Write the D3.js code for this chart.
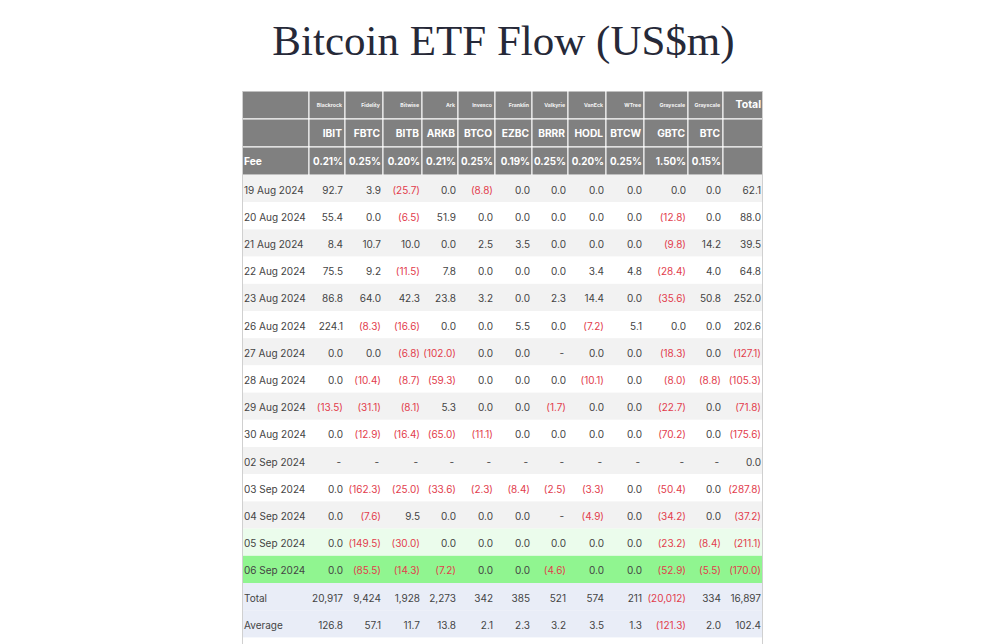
<!DOCTYPE html>
<html>
<head>
<meta charset="utf-8">
<script src="https://cdn.jsdelivr.net/npm/d3@7"></script>
<style>
  html, body { margin: 0; padding: 0; background: #fff; }
  svg { display: block; }
</style>
</head>
<body>
<svg id="chart" width="1000" height="644"></svg>
<script>
// ---------- DATA ----------
const title = "Bitcoin ETF Flow (US$m)";
const issuers = ["Blackrock", "Fidelity", "Bitwise", "Ark", "Invesco", "Franklin", "Valkyrie", "VanEck", "WTree", "Grayscale", "Grayscale"];
const tickers = ["IBIT", "FBTC", "BITB", "ARKB", "BTCO", "EZBC", "BRRR", "HODL", "BTCW", "GBTC", "BTC"];
const fees = ["0.21%", "0.25%", "0.20%", "0.21%", "0.25%", "0.19%", "0.25%", "0.20%", "0.25%", "1.50%", "0.15%"];
const dates = ["19 Aug 2024", "20 Aug 2024", "21 Aug 2024", "22 Aug 2024", "23 Aug 2024", "26 Aug 2024",
  "27 Aug 2024", "28 Aug 2024", "29 Aug 2024", "30 Aug 2024", "02 Sep 2024", "03 Sep 2024",
  "04 Sep 2024", "05 Sep 2024", "06 Sep 2024"];
// flows per date: IBIT, FBTC, BITB, ARKB, BTCO, EZBC, BRRR, HODL, BTCW, GBTC, BTC  (null = "-")
const flows = [
  [92.7, 3.9, -25.7, 0.0, -8.8, 0.0, 0.0, 0.0, 0.0, 0.0, 0.0],
  [55.4, 0.0, -6.5, 51.9, 0.0, 0.0, 0.0, 0.0, 0.0, -12.8, 0.0],
  [8.4, 10.7, 10.0, 0.0, 2.5, 3.5, 0.0, 0.0, 0.0, -9.8, 14.2],
  [75.5, 9.2, -11.5, 7.8, 0.0, 0.0, 0.0, 3.4, 4.8, -28.4, 4.0],
  [86.8, 64.0, 42.3, 23.8, 3.2, 0.0, 2.3, 14.4, 0.0, -35.6, 50.8],
  [224.1, -8.3, -16.6, 0.0, 0.0, 5.5, 0.0, -7.2, 5.1, 0.0, 0.0],
  [0.0, 0.0, -6.8, -102.0, 0.0, 0.0, null, 0.0, 0.0, -18.3, 0.0],
  [0.0, -10.4, -8.7, -59.3, 0.0, 0.0, 0.0, -10.1, 0.0, -8.0, -8.8],
  [-13.5, -31.1, -8.1, 5.3, 0.0, 0.0, -1.7, 0.0, 0.0, -22.7, 0.0],
  [0.0, -12.9, -16.4, -65.0, -11.1, 0.0, 0.0, 0.0, 0.0, -70.2, 0.0],
  [null, null, null, null, null, null, null, null, null, null, null],
  [0.0, -162.3, -25.0, -33.6, -2.3, -8.4, -2.5, -3.3, 0.0, -50.4, 0.0],
  [0.0, -7.6, 9.5, 0.0, 0.0, 0.0, null, -4.9, 0.0, -34.2, 0.0],
  [0.0, -149.5, -30.0, 0.0, 0.0, 0.0, 0.0, 0.0, 0.0, -23.2, -8.4],
  [0.0, -85.5, -14.3, -7.2, 0.0, 0.0, -4.6, 0.0, 0.0, -52.9, -5.5]
];
const dailyTotals = [62.1, 88.0, 39.5, 64.8, 252.0, 202.6, -127.1, -105.3, -71.8, -175.6, 0.0, -287.8, -37.2, -211.1, -170.0];
const fundTotals = [20917, 9424, 1928, 2273, 342, 385, 521, 574, 211, -20012, 334, 16897];
const fundAverages = [126.8, 57.1, 11.7, 13.8, 2.1, 2.3, 3.2, 3.5, 1.3, -121.3, 2.0, 102.4];

// ---------- LAYOUT (styles, not data) ----------
const tableLeft = 242;
const colWidths = [67, 36, 38, 39, 36, 37, 37, 36, 38, 38, 44, 35, 40];
const headTop = 91, headRowH = 28, bodyRowH = 27.2;
const FONT = "Inter, 'Noto Sans', sans-serif";
const C = { head: "#808080", stripe: "#f2f2f2", text: "#444444", neg: "#e23c4c",
            lightGreen: "#ebfcec", green: "#90f590", summary: "#e9edf7", border: "#d0d0d0" };

const svg = d3.select("#chart");

// column scale: index -> left edge
const edges = d3.cumsum([0].concat(colWidths)).map(d => d + tableLeft);
const xLeft = i => edges[i];
const xRight = i => edges[i + 1];
const tableRight = edges[edges.length - 1];

// title
svg.append("text")
  .attr("x", (tableLeft + tableRight) / 2 + 1)
  .attr("y", 55)
  .attr("text-anchor", "middle")
  .attr("font-family", "'Liberation Serif', 'Times New Roman', serif")
  .attr("font-size", 43)
  .attr("fill", "#262938")
  .text(title);

// ---------- HEADER ----------
const nCols = colWidths.length;
const headRows = d3.range(3);
const yHead = d3.scaleLinear().domain([0, 1]).range([headTop, headTop + headRowH]);

const head = svg.append("g");
headRows.forEach(r => {
  d3.range(nCols).forEach(c => {
    head.append("rect")
      .attr("x", xLeft(c)).attr("y", yHead(r))
      .attr("width", xRight(c) - xLeft(c)).attr("height", headRowH)
      .attr("fill", C.head).attr("stroke", "#ffffff").attr("stroke-width", 1);
  });
});

// row 0: issuers
issuers.forEach((s, i) => {
  head.append("text")
    .attr("x", xRight(i + 1) - 3).attr("y", yHead(0) + 16)
    .attr("text-anchor", "end").attr("font-family", FONT)
    .attr("font-size", 5.2).attr("font-weight", 700).attr("fill", "#f4f4f4")
    .text(s);
});
head.append("text")
  .attr("x", xRight(nCols - 1) - 2).attr("y", yHead(0) + 17)
  .attr("text-anchor", "end").attr("font-family", FONT)
  .attr("font-size", 10.5).attr("font-weight", 700).attr("fill", "#fff")
  .text("Total");
// row 1: tickers
tickers.forEach((s, i) => {
  head.append("text")
    .attr("x", xRight(i + 1) - 3).attr("y", yHead(1) + 18)
    .attr("text-anchor", "end").attr("font-family", FONT)
    .attr("font-size", 10.2).attr("font-weight", 700).attr("fill", "#fff")
    .text(s);
});
// row 2: fees
head.append("text")
  .attr("x", xLeft(0) + 2).attr("y", yHead(2) + 18)
  .attr("font-family", FONT).attr("font-size", 10.2).attr("font-weight", 700).attr("fill", "#fff")
  .text("Fee");
fees.forEach((s, i) => {
  head.append("text")
    .attr("x", xRight(i + 1) - 2).attr("y", yHead(2) + 18)
    .attr("text-anchor", "end").attr("font-family", FONT)
    .attr("font-size", 9.8).attr("font-weight", 700).attr("fill", "#fff")
    .text(s);
});

// ---------- BODY ----------
const bodyTop = headTop + 3 * headRowH;
const rows = dates.map((d, i) => ({ label: d, values: flows[i].concat([dailyTotals[i]]), kind: "day" }));
rows.push({ label: "Total", values: fundTotals, kind: "total" });
rows.push({ label: "Average", values: fundAverages, kind: "avg" });

const yBody = d3.scaleLinear().domain([0, 1]).range([bodyTop, bodyTop + bodyRowH]);

const fmt1 = d3.format(",.1f");
const fmt0 = d3.format(",.0f");
function fmtVal(v, kind) {
  if (v === null) return "-";
  const f = kind === "total" ? fmt0 : fmt1;
  return v < 0 ? "(" + f(-v) + ")" : f(v);
}
function rowFill(r, i) {
  if (r.kind !== "day") return C.summary;
  if (r.label === "06 Sep 2024") return C.green;
  if (r.label === "05 Sep 2024") return C.lightGreen;
  return i % 2 === 0 ? C.stripe : "#ffffff";
}

const body = svg.append("g");
const rowG = body.selectAll("g.row").data(rows).join("g")
  .attr("class", "row")
  .attr("transform", (d, i) => `translate(0,${yBody(i)})`);

rowG.append("rect")
  .attr("x", tableLeft).attr("y", 0)
  .attr("width", tableRight - tableLeft).attr("height", bodyRowH)
  .attr("fill", (d, i) => rowFill(d, i));

const textDy = bodyRowH / 2 + 5;
rowG.append("text")
  .attr("x", tableLeft + 2).attr("y", textDy)
  .attr("font-family", FONT).attr("font-size", 10).attr("fill", C.text)
  .text(d => d.label);

rowG.each(function(r) {
  d3.select(this).selectAll("text.val").data(r.values).join("text")
    .attr("class", "val")
    .attr("x", (v, j) => xRight(j + 1) - (v === null ? 4 : 2))
    .attr("y", textDy)
    .attr("text-anchor", "end")
    .attr("font-family", FONT).attr("font-size", 10)
    .attr("fill", v => (v !== null && v < 0) ? C.neg : C.text)
    .text(v => fmtVal(v, r.kind));
});

// outer borders of body
const bodyBottom = 644;
svg.append("line").attr("x1", tableLeft + 0.5).attr("x2", tableLeft + 0.5)
  .attr("y1", headTop).attr("y2", bodyBottom).attr("stroke", C.border);
svg.append("line").attr("x1", tableRight - 0.5).attr("x2", tableRight - 0.5)
  .attr("y1", headTop).attr("y2", bodyBottom).attr("stroke", C.border);
</script>
</body>
</html>
